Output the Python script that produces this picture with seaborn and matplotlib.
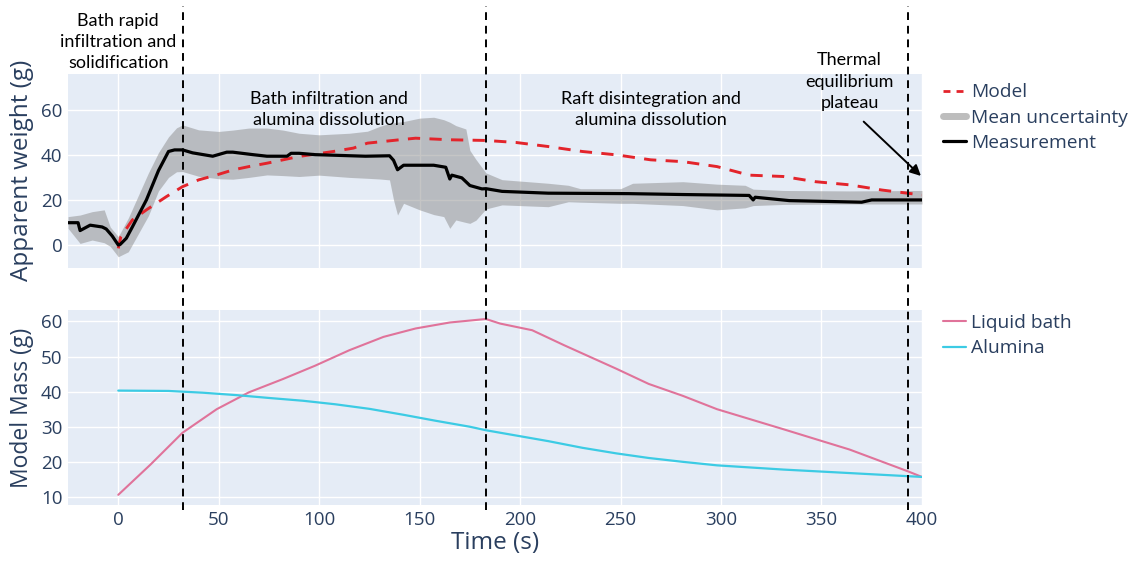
import numpy as np
import pandas as pd
import seaborn as sns
import matplotlib.pyplot as plt
from matplotlib.lines import Line2D
from matplotlib.transforms import blended_transform_factory

# Measured apparent weight (black line)
meas_time = [-25, -20, -19, -14, -8, -6, -3, 0, 1, 4, 7, 14, 20, 25, 28, 32, 37, 47, 54, 57,
             67, 74, 84, 86, 90, 98, 123, 135, 137, 139, 142, 157, 163, 165, 166, 171, 175,
             181, 183, 191, 214, 254, 281, 314, 316, 317, 334, 370, 375, 400]
meas_weight = [9.9, 9.9, 6.4, 8.8, 8.0, 7.1, 4.0, 0.0, 0.3, 3.0, 8.0, 20.0, 33.0, 41.5, 42.2,
               42.2, 40.9, 39.4, 41.2, 41.2, 40.1, 39.4, 39.4, 40.7, 40.7, 40.1, 39.4, 39.6,
               37.6, 33.4, 35.4, 35.4, 34.5, 29.3, 31.0, 29.8, 26.4, 24.9, 25.0, 23.8, 23.0,
               22.8, 22.4, 22.0, 20.0, 21.2, 19.7, 19.0, 20.0, 20.0]

# Uncertainty band
band_time = [-25, -19, -13, -7, -4, 0, 5, 10, 15, 20, 25, 29, 32, 40, 50, 57, 65, 74, 82, 90,
             100, 115, 124, 130, 135, 137, 139, 142, 150, 157, 162, 165, 168, 173, 175, 178,
             183, 191, 214, 224, 230, 250, 256, 281, 298, 312, 316, 331, 364, 400]
band_upper = [12.6, 13.3, 14.8, 15.6, 8.0, 3.7, 12.0, 22.0, 32.0, 41.0, 48.0, 52.0, 53.3, 51.1,
              50.4, 51.0, 51.9, 51.9, 51.0, 49.6, 48.9, 49.6, 50.5, 52.6, 54.0, 54.2, 54.5,
              54.8, 56.3, 56.7, 55.6, 54.5, 53.0, 51.5, 42.0, 38.0, 32.0, 29.0, 27.4, 26.5,
              25.0, 25.0, 27.4, 28.1, 27.0, 26.5, 24.8, 24.2, 24.0, 24.2]
band_lower = [7.4, 0.7, 2.2, 1.0, -0.6, -5.2, -3.0, 5.0, 13.0, 24.0, 30.0, 32.5, 32.6, 30.5,
              29.4, 29.2, 30.0, 31.1, 30.8, 30.4, 31.0, 30.0, 29.6, 29.3, 28.9, 20.0, 13.3,
              18.5, 15.6, 13.5, 12.6, 7.4, 11.1, 10.0, 9.6, 11.0, 16.0, 17.8, 17.0, 19.2,
              19.0, 18.5, 18.5, 17.5, 15.6, 16.5, 17.5, 18.0, 18.2, 18.2]

# Model apparent weight (red dashed)
model_time = [0, 1.3, 7, 14, 24, 32, 40, 49, 57, 65, 74, 82, 90, 107, 117, 124, 140, 148, 165,
              183, 198, 214, 231, 248, 265, 281, 298, 314, 331, 347, 364, 380, 400]
model_weight = [-1.5, 3.7, 11.1, 15.6, 21.5, 25.9, 28.9, 31.1, 33.3, 34.8, 36.3, 37.8, 39.3,
                41.5, 43.0, 45.2, 46.7, 47.4, 46.7, 46.4, 45.5, 43.7, 41.5, 40.0, 37.8, 37.0,
                34.8, 31.0, 30.4, 28.1, 26.7, 24.4, 22.2]

# Model masses (bottom panel)
mass_time = [0, 16, 32, 49, 65, 82, 98, 115, 132, 148, 165, 183, 190, 206, 222, 248, 264, 281,
             298, 331, 364, 393, 400]
liquid_bath = [10.6, 19.2, 28.3, 35.0, 39.8, 43.6, 47.4, 51.8, 55.6, 58.0, 59.7, 60.7, 59.4,
               57.5, 53.2, 46.5, 42.2, 38.8, 35.0, 29.3, 23.5, 17.3, 15.7]
alu_time = [0, 25, 42, 59, 75, 92, 108, 125, 142, 158, 175, 183, 198, 214, 231, 248, 264, 281,
            298, 331, 364, 400]
alumina = [40.3, 40.2, 39.7, 39.0, 38.2, 37.4, 36.4, 35.1, 33.4, 31.7, 30.0, 29.0, 27.5, 25.9,
           24.0, 22.4, 21.1, 20.0, 19.0, 17.8, 16.8, 15.7]

phase_lines = [32, 183, 393]
phase_labels = ["Bath rapid\ninfiltration and\nsolidification",
                "Bath infiltration and\nalumina dissolution",
                "Raft disintegration and\nalumina dissolution",
                "Thermal\nequilibrium\nplateau"]
phase_label_pos = [(0, 90), (105, 60), (265, 60), (364, 72.5)]

sns.set_theme(style="darkgrid", rc={"axes.facecolor": "#E5ECF6", "grid.color": "white",
                                    "grid.linewidth": 1.0})
plt.rcParams['font.family'] = ['Open Sans', 'DejaVu Sans']
txt = '#2a3f5f'

fig = plt.figure(figsize=(11.34, 5.63), dpi=100)
ax1 = fig.add_axes([0.060, 0.524, 0.753, 0.345])
ax2 = fig.add_axes([0.060, 0.103, 0.753, 0.346])

# top panel
ax1.fill_between(band_time, band_lower, band_upper, color='#8c8c8c', alpha=0.5, lw=0)
sns.lineplot(x=model_time, y=model_weight, ax=ax1, color='#e3242b', lw=2.1)
ax1.lines[-1].set_dashes([4.2, 3.2])
sns.lineplot(x=meas_time, y=meas_weight, ax=ax1, color='black', lw=2.3)
ax1.set_xlim(-25, 400)
ax1.set_ylim(-10.2, 76)
ax1.set_yticks([0, 20, 40, 60])
ax1.set_xticks(range(0, 401, 50))
ax1.tick_params(labelbottom=False, labelsize=13.5, colors=txt, length=0, pad=4)
ax1.set_ylabel("Apparent weight (g)", fontsize=17.5, color=txt)

handles1 = [Line2D([], [], color='#e3242b', lw=2, dashes=[2.5, 2.2]),
            Line2D([], [], color='#bdbdbd', lw=5),
            Line2D([], [], color='black', lw=2.3)]
ax1.legend(handles1, ["Model", "Mean uncertainty", "Measurement"], loc='upper left',
           bbox_to_anchor=(1.016, 0.99), frameon=False, fontsize=13.8, labelcolor=txt,
           handlelength=1.2, handletextpad=0.25, labelspacing=0.38, borderaxespad=0)

# bottom panel
sns.lineplot(x=mass_time, y=liquid_bath, ax=ax2, color='#e0739a', lw=1.5)
sns.lineplot(x=alu_time, y=alumina, ax=ax2, color='#3ccbe4', lw=1.6)
ax2.set_xlim(-25, 400)
ax2.set_ylim(7.7, 63.2)
ax2.set_yticks(range(10, 61, 10))
ax2.set_xticks(range(0, 401, 50))
ax2.tick_params(labelsize=13.5, colors=txt, length=0, pad=4)
ax2.set_ylabel("Model Mass (g)", fontsize=16.5, color=txt)
ax2.set_xlabel("Time (s)", fontsize=17.5, color=txt, labelpad=2)
handles2 = [Line2D([], [], color='#e0739a', lw=1.5), Line2D([], [], color='#3ccbe4', lw=1.6)]
ax2.legend(handles2, ["Liquid bath", "Alumina"], loc='upper left', bbox_to_anchor=(1.016, 1.02),
           frameon=False, fontsize=13.8, labelcolor=txt, handlelength=1.2,
           handletextpad=0.25, labelspacing=0.38, borderaxespad=0)

for ax in (ax1, ax2):
    ax.yaxis.set_label_coords(-0.040, 0.5)
    for s in ax.spines.values():
        s.set_visible(False)

# phase separators across the whole figure
trans = blended_transform_factory(ax1.transData, fig.transFigure)
for xv in phase_lines:
    fig.add_artist(Line2D([xv, xv], [0.094, 0.99], transform=trans, color='black', lw=1.4,
                          dashes=[4, 3]))

for label, (px, py) in zip(phase_labels, phase_label_pos):
    ax1.text(px, py, label, ha='center', va='center', fontsize=13, color='black',
             clip_on=False, family=['Lato', 'DejaVu Sans'], linespacing=1.4)

ax1.annotate("", xy=(400.5, 29.8), xytext=(370, 55.6), annotation_clip=False,
             arrowprops=dict(arrowstyle='-|>', color='black', lw=1.4, mutation_scale=16))

fig.savefig("out.png", dpi=100)
